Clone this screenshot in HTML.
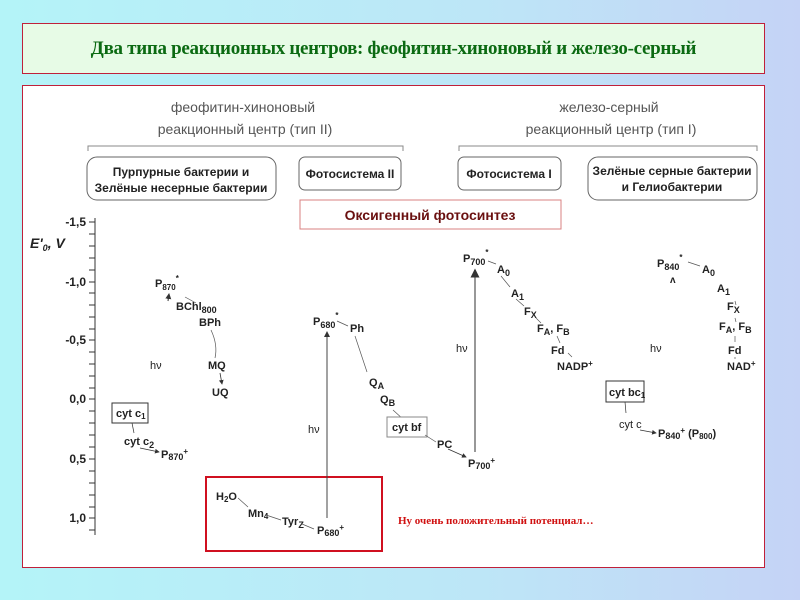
<!DOCTYPE html>
<html><head><meta charset="utf-8"><style>
html,body{margin:0;padding:0}
body{width:800px;height:600px;overflow:hidden;background:linear-gradient(90deg,#b4f4f8 0%,#bde6f7 60%,#c5d3f6 100%);position:relative;font-family:"Liberation Sans",sans-serif}
.title{position:absolute;left:22px;top:23px;width:741px;height:49px;background:#e7fbe6;border:1px solid #c0203a;font-family:"Liberation Serif",serif;font-weight:bold;color:#0b6a12;font-size:19px;text-align:center;line-height:49px;letter-spacing:-0.3px}
.main{position:absolute;left:22px;top:85px;width:741px;height:481px;background:#fff;border:1px solid #c0203a}
svg{position:absolute;left:0;top:0}
text{font-family:"Liberation Sans",sans-serif;fill:#222}
.b{font-weight:bold}
</style></head><body>
<div class="title">Два типа реакционных центров: феофитин-хиноновый и железо-серный</div>
<div class="main"></div>
<svg width="800" height="600" viewBox="0 0 800 600">
<defs><marker id="a" markerWidth="6" markerHeight="6" refX="5" refY="3" orient="auto"><path d="M0,0 L6,3 L0,6 z" fill="#333"/></marker></defs>
<g font-size="14" text-anchor="middle">
<text x="243" y="112" style="fill:#555">феофитин-хиноновый</text>
<text x="245" y="134" style="fill:#555">реакционный центр (тип II)</text>
<text x="609" y="112" style="fill:#555">железо-серный</text>
<text x="611" y="134" style="fill:#555">реакционный центр (тип I)</text>
</g>
<g stroke="#888" fill="none">
<path d="M88,151 V146 H403 V151"/><path d="M459,151 V146 H757 V151"/>
</g>
<g stroke="#666" fill="#fff">
<rect x="87" y="157" width="189" height="43" rx="10"/>
<rect x="299" y="157" width="102" height="33" rx="6"/>
<rect x="458" y="157" width="103" height="33" rx="6"/>
<rect x="588" y="157" width="169" height="43" rx="10"/>
</g>
<g font-size="12" class="b" text-anchor="middle">
<text x="181" y="176" class="b">Пурпурные бактерии и</text>
<text x="181" y="192" class="b">Зелёные несерные бактерии</text>
<text x="350" y="178" class="b">Фотосистема II</text>
<text x="509" y="178" class="b">Фотосистема I</text>
<text x="672" y="175" class="b">Зелёные серные бактерии</text>
<text x="672" y="191" class="b">и Гелиобактерии</text>
</g>
<rect x="300" y="200" width="261" height="29" fill="#fff" stroke="#d98080"/>
<text x="430" y="220" font-size="14" class="b" text-anchor="middle" style="fill:#6a1010">Оксигенный фотосинтез</text>
<path d="M95,218 V535" stroke="#333"/>
<g stroke="#333">
<path d="M89,222H95M89,234H95M89,246H95M89,258H95M89,270H95M89,282H95M89,293H95M89,305H95M89,317H95M89,329H95M89,340H95M89,352H95M89,364H95M89,376H95M89,388H95M89,399H95M89,411H95M89,423H95M89,435H95M89,447H95M89,459H95M89,471H95M89,483H95M89,495H95M89,507H95M89,518H95M89,530H95"/>
</g>
<g font-size="12" class="b" text-anchor="end">
<text x="86" y="226">-1,5</text><text x="86" y="286">-1,0</text><text x="86" y="344">-0,5</text>
<text x="86" y="403">0,0</text><text x="86" y="463">0,5</text><text x="86" y="522">1,0</text>
</g>
<text x="30" y="248" font-size="14" class="b" font-style="italic">E'<tspan font-size="9" dy="3">0</tspan><tspan dy="-3">, V</tspan></text>
<g font-size="11" class="b">
<text x="155" y="287">P<tspan font-size="8" dy="3">870</tspan><tspan font-size="8" dy="-9">*</tspan></text>
<text x="176" y="310">BChl<tspan font-size="9" dy="3">800</tspan></text>
<text x="199" y="326">BPh</text>
<text x="208" y="369">MQ</text>
<text x="212" y="396">UQ</text>
<text x="124" y="445">cyt c<tspan font-size="9" dy="3">2</tspan></text>
<text x="161" y="458">P<tspan font-size="9" dy="2">870</tspan><tspan font-size="8" dy="-6">+</tspan></text>
</g>
<text x="150" y="369" font-size="11">hν</text>
<path d="M168,301 L169,294" stroke="#333" marker-end="url(#a)"/>
<path d="M185,297 L196,303" stroke="#555" stroke-width=".7"/>
<path d="M211,330 Q218,345 215,358" stroke="#555" stroke-width=".7" fill="none"/>
<path d="M220,373 L222,384" stroke="#333" stroke-width=".8" marker-end="url(#a)"/>
<rect x="112" y="403" width="36" height="20" fill="#fff" stroke="#333"/>
<text x="116" y="417" font-size="11" class="b">cyt c<tspan font-size="8" dy="2">1</tspan></text>
<path d="M132,423 L134,433" stroke="#333" stroke-width=".7"/>
<path d="M140,448 L159,452" stroke="#333" stroke-width=".8" marker-end="url(#a)"/>
<rect x="206" y="477" width="176" height="74" fill="none" stroke="#d01020" stroke-width="2"/>
<path d="M327,518 V332" stroke="#444" marker-end="url(#a)"/>
<text x="308" y="433" font-size="11">hν</text>
<g font-size="11" class="b">
<text x="313" y="325">P<tspan font-size="9" dy="3">680</tspan><tspan font-size="8" dy="-10">*</tspan></text>
<text x="350" y="332">Ph</text>
<text x="369" y="386">Q<tspan font-size="9" dy="3">A</tspan></text>
<text x="380" y="403">Q<tspan font-size="9" dy="3">B</tspan></text>
<text x="216" y="500">H<tspan font-size="8" dy="2">2</tspan><tspan dy="-2">O</tspan></text>
<text x="248" y="517">Mn<tspan font-size="8" dy="2">4</tspan></text>
<text x="282" y="525">Tyr<tspan font-size="9" dy="3">Z</tspan></text>
<text x="317" y="534">P<tspan font-size="9" dy="2">680</tspan><tspan font-size="8" dy="-6">+</tspan></text>
<text x="437" y="448">PC</text>
<text x="468" y="467">P<tspan font-size="9" dy="2">700</tspan><tspan font-size="8" dy="-6">+</tspan></text>
</g>
<path d="M337,321 L348,326 M355,336 L367,372 M393,410 L404,420 M238,498 L248,507 M266,515 L281,520 M302,524 L314,529" stroke="#555" stroke-width=".7" fill="none"/>
<rect x="387" y="417" width="40" height="20" fill="#fff" stroke="#888"/>
<text x="392" y="431" font-size="11" class="b">cyt bf</text>
<path d="M425,435 L436,442" stroke="#555" stroke-width=".7"/>
<path d="M448,449 L466,457" stroke="#333" stroke-width=".8" marker-end="url(#a)"/>
<text x="398" y="524" font-size="11" class="b" style="fill:#d01010;font-family:'Liberation Serif',serif">Ну очень положительный потенциал…</text>
<path d="M475,452 V270" stroke="#777" stroke-width="1.5" marker-end="url(#a)"/>
<text x="456" y="352" font-size="11">hν</text>
<g font-size="11" class="b">
<text x="463" y="262">P<tspan font-size="9" dy="3">700</tspan><tspan font-size="8" dy="-10">*</tspan></text>
<text x="497" y="273">A<tspan font-size="9" dy="3">0</tspan></text>
<text x="511" y="297">A<tspan font-size="9" dy="3">1</tspan></text>
<text x="524" y="315">F<tspan font-size="9" dy="3">X</tspan></text>
<text x="537" y="332">F<tspan font-size="9" dy="3">A</tspan><tspan dy="-3">, F</tspan><tspan font-size="9" dy="3">B</tspan></text>
<text x="551" y="354">Fd</text>
<text x="557" y="370">NADP<tspan font-size="8" dy="-4">+</tspan></text>
</g>
<path d="M488,261 L496,264 M501,276 L510,287 M516,299 L524,306 M536,318 L541,323 M557,336 L560,343 M568,353 L572,357" stroke="#555" stroke-width=".7" fill="none"/>
<text x="650" y="352" font-size="11">hν</text>
<g font-size="11" class="b">
<text x="657" y="267">P<tspan font-size="9" dy="3">840</tspan><tspan font-size="8" dy="-10">*</tspan></text>
<text x="702" y="273">A<tspan font-size="9" dy="3">0</tspan></text>
<text x="717" y="292">A<tspan font-size="9" dy="3">1</tspan></text>
<text x="727" y="310">F<tspan font-size="9" dy="3">X</tspan></text>
<text x="719" y="330">F<tspan font-size="9" dy="3">A</tspan><tspan dy="-3">, F</tspan><tspan font-size="9" dy="3">B</tspan></text>
<text x="728" y="354">Fd</text>
<text x="727" y="370">NAD<tspan font-size="8" dy="-4">+</tspan></text>
<text x="658" y="437">P<tspan font-size="9" dy="2">840</tspan><tspan font-size="8" dy="-6">+</tspan><tspan dy="4"> (P</tspan><tspan font-size="8" dy="2">800</tspan><tspan dy="-2">)</tspan></text>
</g>
<text x="670" y="283" font-size="10" class="b">ʌ</text>
<path d="M688,262 L700,266 M735,301 L736,305 M735,318 L736,322 M735,336 L735,342 M735,357 L735,359" stroke="#555" stroke-width=".7"/>
<rect x="606" y="381" width="38" height="21" fill="#fff" stroke="#333"/>
<text x="609" y="396" font-size="11" class="b">cyt bc<tspan font-size="8" dy="2">1</tspan></text>
<path d="M625,402 L626,413" stroke="#333" stroke-width=".7"/>
<text x="619" y="428" font-size="11">cyt c</text>
<path d="M640,430 L656,433" stroke="#333" stroke-width=".8" marker-end="url(#a)"/>
</svg>
</body></html>
